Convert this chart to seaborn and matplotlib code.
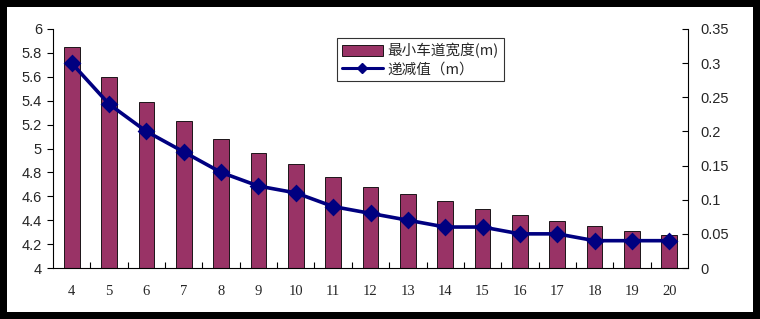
import matplotlib
matplotlib.use("Agg")
import matplotlib.pyplot as plt
import seaborn as sns
import numpy as np
import pandas as pd
from matplotlib.patches import Rectangle
from matplotlib.lines import Line2D

categories = [str(v) for v in range(4, 21)]
lane_width = [5.85, 5.60, 5.39, 5.23, 5.08, 4.96, 4.87, 4.76, 4.68, 4.62,
              4.56, 4.49, 4.44, 4.39, 4.35, 4.31, 4.28]
decrement = [0.30, 0.24, 0.20, 0.17, 0.14, 0.12, 0.11, 0.09, 0.08, 0.07,
             0.06, 0.06, 0.05, 0.05, 0.04, 0.04, 0.04]
left_ticks = [4, 4.2, 4.4, 4.6, 4.8, 5, 5.2, 5.4, 5.6, 5.8, 6]
right_ticks = [0, 0.05, 0.1, 0.15, 0.2, 0.25, 0.3, 0.35]
legend_labels = ["最小车道宽度(m)", "递减值（m）"]

df = pd.DataFrame({"cat": categories, "w": lane_width, "d": decrement})

sns.set_theme(style="white")
plt.rcParams['font.family'] = ['Liberation Sans', 'Noto Sans CJK SC', 'DejaVu Sans']

fig = plt.figure(figsize=(7.6, 3.19), dpi=100)
fig.patch.set_facecolor("black")
fig.add_artist(Rectangle((7/760, 7/319), 1 - 14/760, 1 - 14/319,
                         transform=fig.transFigure, facecolor="white",
                         edgecolor="none", zorder=0))

ax = fig.add_axes([53/760, 1 - 268/319, 635/760, 239/319])
ax.set_facecolor("white")
sns.barplot(data=df, x="cat", y="w", ax=ax, color="#993366", saturation=1,
            width=0.42, edgecolor="black", linewidth=0.6, bottom=0)
ax.set_ylim(4, 6)
ax.set_xlim(-0.5, len(categories) - 0.5)
ax.set_yticks(left_ticks)
ax.set_yticklabels([f"{t:g}" for t in left_ticks], fontsize=10.5)
ax.set_xlabel("")
ax.set_ylabel("")
ax.tick_params(axis="y", direction="out", length=4, width=0.8, color="black", pad=4, left=True)
ax.set_xticks(range(len(categories)))
ax.set_xticklabels(categories, fontsize=10.5, family=['Liberation Serif'])
ax.tick_params(axis="x", length=0, pad=12)
ax.set_xticks(np.arange(0.5, len(categories) - 1, 1.0), minor=True)
ax.tick_params(axis="x", which="minor", direction="in", length=4, width=0.8, color="black", bottom=True)
for s in ["top", "right"]:
    ax.spines[s].set_visible(False)
for s in ["left", "bottom"]:
    ax.spines[s].set_color("black")
    ax.spines[s].set_linewidth(0.8)

ax2 = ax.twinx()
sns.pointplot(data=df, x="cat", y="d", ax=ax2, color="#000080", markers="D",
              linestyles="-", markersize=7, linewidth=2.6)
ax2.set_ylim(0, 0.35)
ax2.set_xlim(-0.5, len(categories) - 0.5)
ax2.set_yticks(right_ticks)
ax2.set_yticklabels([f"{t:g}" for t in right_ticks], fontsize=10.5)
ax2.set_ylabel("")
ax2.set_xlabel("")
ax2.tick_params(axis="y", direction="in", length=4, width=0.8, color="black", pad=9, right=True)
for s in ["top", "left", "bottom"]:
    ax2.spines[s].set_visible(False)
ax2.spines["right"].set_color("black")
ax2.spines["right"].set_linewidth(0.8)

handles = [Rectangle((0, 0), 1, 1, facecolor="#993366", edgecolor="black", linewidth=0.6),
           Line2D([], [], color="#000080", marker="D", markersize=5.5, linewidth=2.2)]
leg = ax2.legend(handles, legend_labels, loc="upper left",
                 bbox_to_anchor=(0.447, 0.962), frameon=True, fancybox=False,
                 prop={'family': ['Noto Sans CJK SC'], 'size': 10.5},
                 borderpad=0.35, handlelength=2.8, labelspacing=0.25, handletextpad=0.3,
                 borderaxespad=0)
leg.get_frame().set_edgecolor("black")
leg.get_frame().set_linewidth(0.8)

fig.savefig("out.png", dpi=100, facecolor="black")
